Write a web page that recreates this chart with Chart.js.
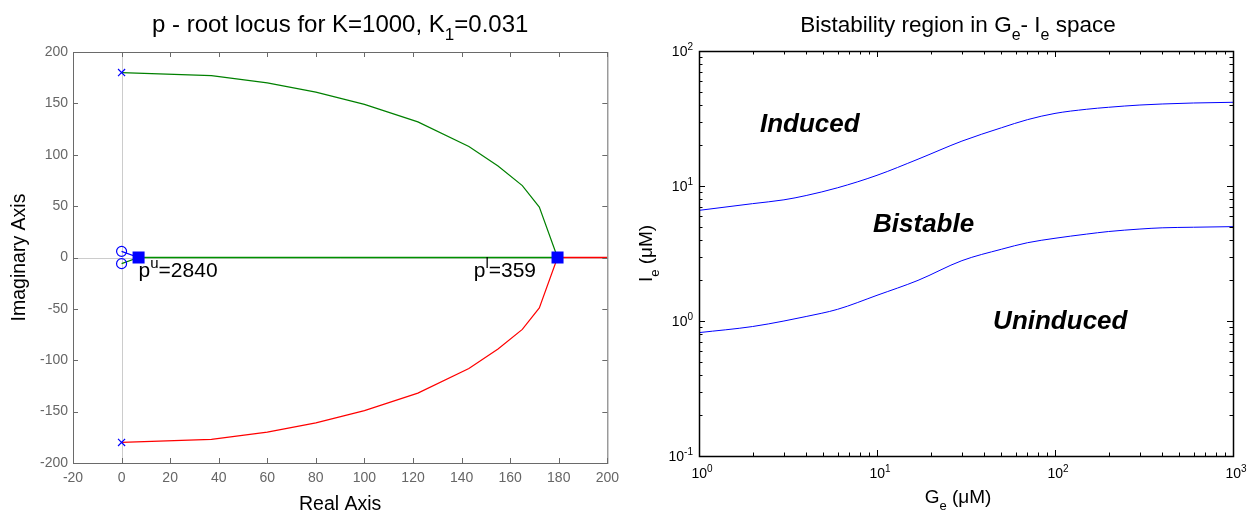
<!DOCTYPE html>
<html>
<head>
<meta charset="utf-8">
<script src="https://cdn.jsdelivr.net/npm/chart.js@4/dist/chart.umd.min.js"></script>
<style>
  body { margin: 0; background: #fff; }
  #wrap { position: relative; width: 1253px; height: 517px; }
  .panel { position: absolute; top: 0; height: 517px; }
</style>
</head>
<body>
<div id="wrap">
  <div class="panel" style="left:0;width:626px"><canvas id="rootLocus"></canvas></div>
  <div class="panel" style="left:626px;width:627px"><canvas id="bistab"></canvas></div>
</div>
<script>
// ---- root locus data (left) ----
const locusX = [0, 37, 60, 80, 100, 122, 143, 155, 165, 172, 179.5];
const upperBranchY = [180, 177, 170, 161, 149, 132, 108, 89, 70, 49, 0];
const lowerBranchY = [-180, -177, -170, -161, -149, -132, -108, -89, -70, -49, 0];
const realGreenX = [7, 179.5];
const realRedX = [179.5, 200];
const poleX = [0, 0];
const poleY = [180, -180];
const zeroX = [0, 0];
const zeroY = [6, -6];
const breakX = [7, 179.5];
const breakY = [0, 0];

// ---- bistability data (right) ----
const geX = [1, 2, 3, 4, 6, 10, 17, 30, 50, 70, 100, 150, 200, 300, 400, 600, 1000];
const upperIe = [6.6, 7.4, 7.9, 8.5, 9.7, 12, 15.8, 21.5, 27, 31, 34.5, 37, 38.3, 39.8, 40.5, 41.2, 41.7];
const lowerIe = [0.82, 0.91, 1.0, 1.08, 1.22, 1.55, 2.0, 2.8, 3.4, 3.8, 4.1, 4.4, 4.6, 4.8, 4.9, 4.95, 5.0];
const geDecades = [1, 10, 100, 1000];
const geExp = ['0', '1', '2', '3'];
const ieDecades = [0.1, 1, 10, 100];
const ieExp = ['-1', '0', '1', '2'];

const FONT = '"Liberation Sans", Arial, sans-serif';
const zip = (xs, ys) => xs.map((x, i) => ({ x, y: ys[i] }));

function richText(ctx, parts, x, y, opt) {
  const size = opt.size;
  const style = opt.style || '';
  const small = Math.round(size * 0.7);
  const fontFor = k => `${style} ${k ? small : size}px ${FONT}`;
  let w = 0;
  const widths = parts.map(([t, k]) => {
    ctx.font = fontFor(k);
    const m = ctx.measureText(t).width;
    w += m;
    return m;
  });
  let cx = opt.align === 'center' ? x - w / 2 : opt.align === 'right' ? x - w : x;
  ctx.fillStyle = opt.color || '#000';
  ctx.textAlign = 'left';
  ctx.textBaseline = 'alphabetic';
  parts.forEach(([t, k], i) => {
    ctx.font = fontFor(k);
    const dy = k === 'sup' ? -size * 0.45 : k === 'sub' ? size * 0.35 : 0;
    ctx.fillText(t, cx, y + dy);
    cx += widths[i];
  });
}

function rotatedText(ctx, parts, x, y, opt) {
  ctx.save();
  ctx.translate(x, y);
  ctx.rotate(-Math.PI / 2);
  richText(ctx, parts, 0, 0, opt);
  ctx.restore();
}

const baseOpts = {
  responsive: true,
  maintainAspectRatio: false,
  animation: false,
  events: [],
  plugins: { legend: { display: false }, tooltip: { enabled: false } }
};

// ---------- left: root locus ----------
const rootLocusDecor = {
  id: 'rootLocusDecor',
  beforeDatasetsDraw(chart) {
    // light grey lines through the origin
    const { ctx, chartArea: a, scales: { x, y } } = chart;
    ctx.save();
    ctx.strokeStyle = '#cccccc';
    ctx.lineWidth = 1;
    const x0 = Math.round(x.getPixelForValue(0)) + 0.5;
    const y0 = Math.round(y.getPixelForValue(0)) + 0.5;
    ctx.beginPath();
    ctx.moveTo(x0, a.top); ctx.lineTo(x0, a.bottom);
    ctx.moveTo(a.left, y0); ctx.lineTo(a.right, y0);
    ctx.stroke();
    ctx.restore();
  },
  afterDraw(chart) {
    const { ctx, chartArea: a, scales: { x, y } } = chart;
    ctx.save();
    ctx.strokeStyle = '#6a6a6a';
    ctx.lineWidth = 1;
    ctx.strokeRect(a.left + 0.5, a.top + 0.5, a.right - a.left, a.bottom - a.top);
    ctx.beginPath();
    x.ticks.forEach(t => {
      const px = Math.round(x.getPixelForValue(t.value)) + 0.5;
      ctx.moveTo(px, a.bottom); ctx.lineTo(px, a.bottom - 5);
      ctx.moveTo(px, a.top); ctx.lineTo(px, a.top + 5);
    });
    y.ticks.forEach(t => {
      const py = Math.round(y.getPixelForValue(t.value)) + 0.5;
      ctx.moveTo(a.left, py); ctx.lineTo(a.left + 5, py);
      ctx.moveTo(a.right, py); ctx.lineTo(a.right - 5, py);
    });
    ctx.stroke();

    richText(ctx, [['p'], ['u', 'sup'], ['=2840']], x.getPixelForValue(7), y.getPixelForValue(-19), { size: 21 });
    richText(ctx, [['p'], ['l', 'sup'], ['=359']], x.getPixelForValue(145), y.getPixelForValue(-19), { size: 21 });

    const cx = (a.left + a.right) / 2;
    richText(ctx, [['p - root locus for K=1000, K'], ['1', 'sub'], ['=0.031']], cx, 32, { size: 24, align: 'center' });
    richText(ctx, [['Real Axis']], cx, 510, { size: 19.5, align: 'center' });
    rotatedText(ctx, [['Imaginary Axis']], 25, (a.top + a.bottom) / 2, { size: 19.5, align: 'center' });
    ctx.restore();
  }
};

const lineDs = (data, color, order, width) => ({
  data, showLine: true, borderColor: color, borderWidth: width || 1.2, pointRadius: 0, fill: false, order
});

const markerDs = (data, style, radius, order, filled) => ({
  data, order, showLine: false,
  pointStyle: style, pointRadius: radius,
  pointBorderColor: '#0000ff', borderColor: '#0000ff',
  pointBackgroundColor: filled ? '#0000ff' : 'rgba(0,0,0,0)',
  backgroundColor: filled ? '#0000ff' : 'rgba(0,0,0,0)',
  pointBorderWidth: filled ? 0 : 1.2, borderWidth: filled ? 0 : 1.2
});

new Chart(document.getElementById('rootLocus'), {
  type: 'scatter',
  data: {
    datasets: [
      lineDs(zip(realGreenX, [0, 0]), '#009000', 10, 1.5),
      lineDs(zip(realRedX, [0, 0]), '#ff0000', 10, 1.5),
      lineDs(zip(locusX, upperBranchY), '#008000', 10),
      lineDs(zip(locusX, lowerBranchY), '#ff0000', 10),
      lineDs([{ x: zeroX[0], y: zeroY[0] }, { x: breakX[0], y: breakY[0] }], '#0000ff', 10),
      lineDs([{ x: zeroX[1], y: zeroY[1] }, { x: breakX[0], y: breakY[0] }], '#008000', 10),
      markerDs(zip(poleX, poleY), 'crossRot', 5, 1, false),
      markerDs(zip(zeroX, zeroY), 'circle', 5, 1, false),
      markerDs(zip(breakX, breakY), 'rect', 8.5, 0, true)
    ]
  },
  options: {
    ...baseOpts,
    layout: { padding: { top: 52, right: 13, left: 0, bottom: 0 } },
    scales: {
      x: {
        type: 'linear', min: -20, max: 200,
        grid: { display: false, drawTicks: false }, border: { display: false },
        ticks: { stepSize: 20, autoSkip: false, maxRotation: 0, padding: 7, color: '#666', font: { family: FONT, size: 14 } },
        afterFit: s => { s.height = 54; }
      },
      y: {
        type: 'linear', min: -200, max: 200,
        grid: { display: false, drawTicks: false }, border: { display: false },
        ticks: { stepSize: 50, autoSkip: false, padding: 5, color: '#666', font: { family: FONT, size: 14 } },
        afterFit: s => { s.width = 73; }
      }
    }
  },
  plugins: [rootLocusDecor]
});

// ---------- right: bistability region ----------
const bistabDecor = {
  id: 'bistabDecor',
  afterDraw(chart) {
    const { ctx, chartArea: a, scales: { x, y } } = chart;
    ctx.save();
    ctx.strokeStyle = '#000';
    ctx.lineWidth = 1.5;
    ctx.strokeRect(a.left + 0.5, a.top + 0.5, a.right - a.left, a.bottom - a.top);
    ctx.lineWidth = 1;
    ctx.beginPath();
    geDecades.forEach((d, i) => {
      for (let m = 1; m <= 9; m++) {
        if (i === geDecades.length - 1 && m > 1) break;
        const px = Math.round(x.getPixelForValue(d * m)) + 0.5;
        const len = m === 1 ? 6 : 3.5;
        ctx.moveTo(px, a.bottom); ctx.lineTo(px, a.bottom - len);
        ctx.moveTo(px, a.top); ctx.lineTo(px, a.top + len);
      }
    });
    ieDecades.forEach((d, i) => {
      for (let m = 1; m <= 9; m++) {
        if (i === ieDecades.length - 1 && m > 1) break;
        const py = Math.round(y.getPixelForValue(d * m)) + 0.5;
        const len = m === 1 ? 6 : 3.5;
        ctx.moveTo(a.left, py); ctx.lineTo(a.left + len, py);
        ctx.moveTo(a.right, py); ctx.lineTo(a.right - len, py);
      }
    });
    ctx.stroke();

    geDecades.forEach((d, i) => {
      richText(ctx, [['10'], [geExp[i], 'sup']], x.getPixelForValue(d) + 3, a.bottom + 22, { size: 14, align: 'center' });
    });
    ieDecades.forEach((d, i) => {
      richText(ctx, [['10'], [ieExp[i], 'sup']], a.left - 6, y.getPixelForValue(d) + 5, { size: 14, align: 'right' });
    });

    const lbl = { size: 26, style: 'italic bold' };
    richText(ctx, [['Induced']], x.getPixelForValue(2.2), y.getPixelForValue(25), lbl);
    richText(ctx, [['Bistable']], x.getPixelForValue(9.5), y.getPixelForValue(4.56), lbl);
    richText(ctx, [['Uninduced']], x.getPixelForValue(44.9), y.getPixelForValue(0.873), lbl);

    richText(ctx, [['Bistability region in G'], ['e', 'sub'], ['- I'], ['e', 'sub'], [' space']], 332, 32, { size: 22.5, align: 'center' });
    richText(ctx, [['G'], ['e', 'sub'], [' (μM)']], 332, 503, { size: 19, align: 'center' });
    rotatedText(ctx, [['I'], ['e', 'sub'], [' (μM)']], 26, (a.top + a.bottom) / 2, { size: 19, align: 'center' });
    ctx.restore();
  }
};

const smoothDs = (data, color) => ({
  data, showLine: true, borderColor: color, borderWidth: 1, pointRadius: 0, fill: false,
  cubicInterpolationMode: 'monotone'
});

new Chart(document.getElementById('bistab'), {
  type: 'scatter',
  data: {
    datasets: [
      smoothDs(zip(geX, upperIe), '#0000ff'),
      smoothDs(zip(geX, lowerIe), '#0000ff')
    ]
  },
  options: {
    ...baseOpts,
    layout: { padding: { top: 51, right: 20, left: 0, bottom: 0 } },
    scales: {
      x: {
        type: 'logarithmic', min: 1, max: 1000,
        grid: { display: false, drawTicks: false }, border: { display: false },
        ticks: { display: false },
        afterFit: s => { s.height = 61; }
      },
      y: {
        type: 'logarithmic', min: 0.1, max: 100,
        grid: { display: false, drawTicks: false }, border: { display: false },
        ticks: { display: false },
        afterFit: s => { s.width = 73; }
      }
    }
  },
  plugins: [bistabDecor]
});
</script>
</body>
</html>
